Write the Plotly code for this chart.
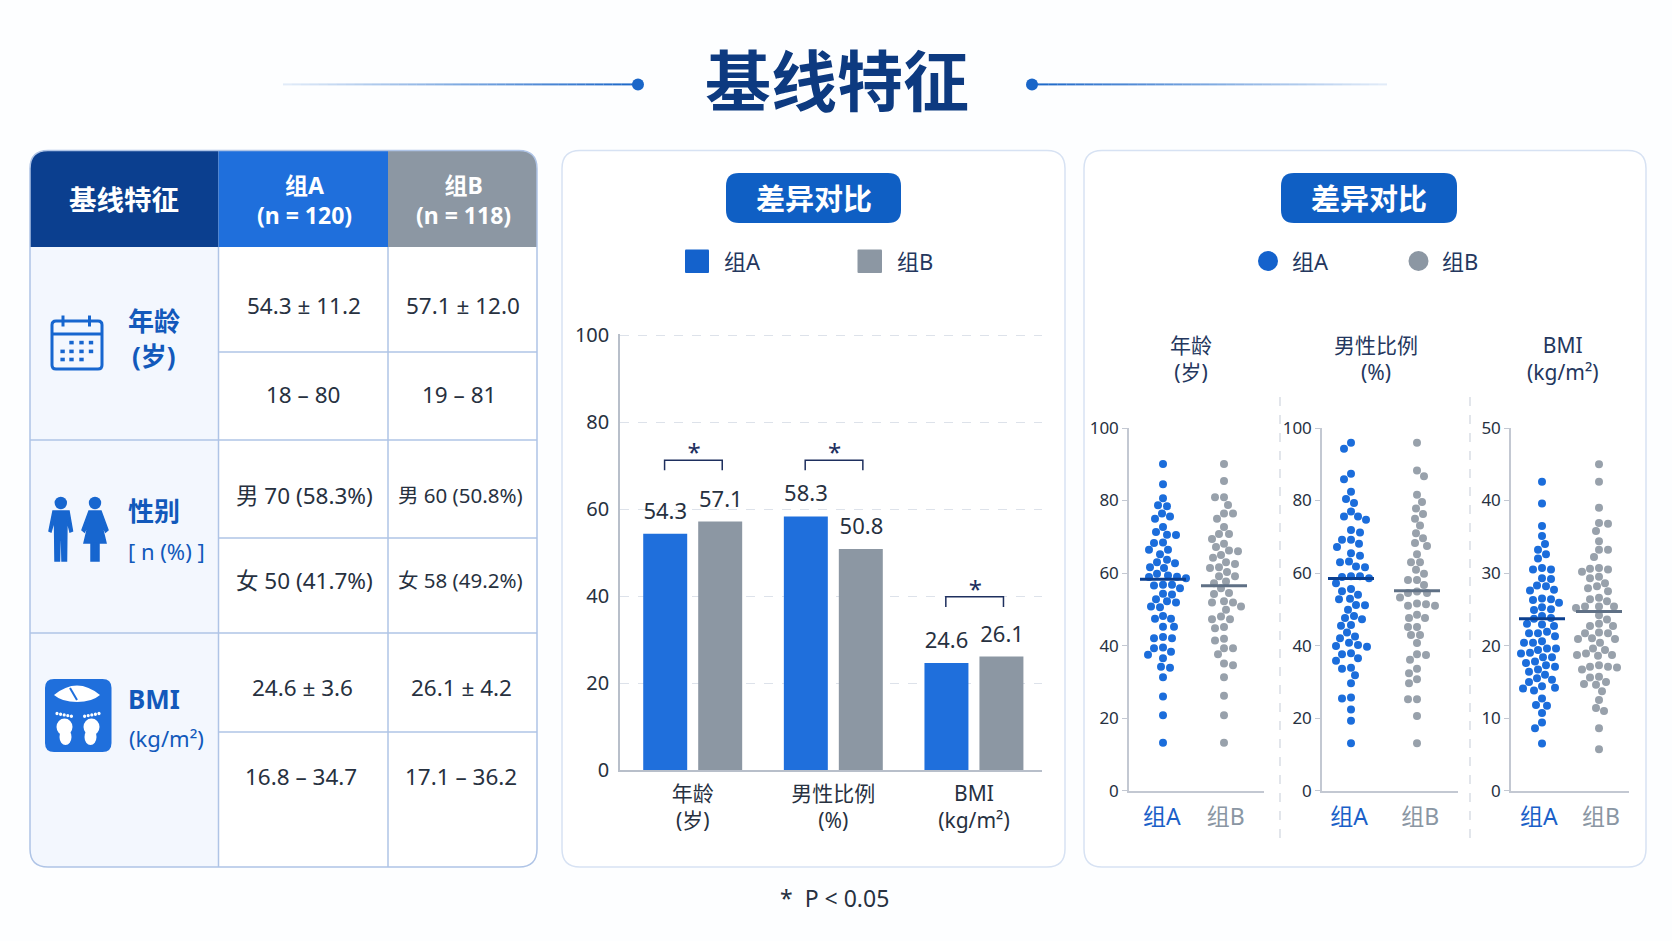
"""
Baseline characteristics panel: table on the left, grouped bars in the middle, dot plots on the right
"""
import plotly.graph_objects as go

WIDTH = 1672
HEIGHT = 941
FONT = "Noto Sans, Noto Sans CJK SC"

BLUE = "#1f6fdc"
GREY = "#8c97a3"
DOT_BLUE = "#1b6ddb"
DOT_GREY = "#98a1ab"
NAVY = "#0b3f8f"
PILL = "#0f5fc4"
INK = "#27313f"
LABEL_BLUE = "#1259bb"
TABLE_LINE = "#afc4e6"

title = "基线特征"
panel_title = "差异对比"
group_names = ["组A", "组B"]
table_header = ["基线特征", "组A<br>(n = 120)", "组B<br>(n = 118)"]
table_col_a = ["54.3 ± 11.2", "18 – 80", "男 70 (58.3%)", "女 50 (41.7%)", "24.6 ± 3.6", "16.8 – 34.7"]
table_col_b = ["57.1 ± 12.0", "19 – 81", "男 60 (50.8%)", "女 58 (49.2%)", "26.1 ± 4.2", "17.1 – 36.2"]

categories = ["年龄<br>(岁)", "男性比例<br>(%)", "BMI<br>(kg/m²)"]
bar_a = [54.3, 58.3, 24.6]
bar_b = [57.1, 50.8, 26.1]
bar_ticks = [0, 20, 40, 60, 80, 100]
bar_bracket_tops = [71.2, 71.2, 39.8]

age_a = [90.1, 84.5, 80.6, 78.7, 78.4, 76.4, 75.6, 75, 72.7, 71.3, 70.6, 70.5, 68.4, 68.3, 66.4, 66.4, 65.2, 63.7, 63,
         62.7, 61.6, 61.4, 59.8, 59.3, 59, 58.9, 58.6, 56.8, 56.8, 56.6, 55.8, 54.3, 54.1, 52.8, 52.2, 51.9, 50.8, 50.6,
         48.2, 47.4, 47.4, 45.2, 45.2, 42.4, 42, 42, 39.5, 39.3, 38.3, 37.5, 36.5, 34.2, 33.9, 31.3, 26, 20.8, 13.2]
age_b = [90.1, 85.4, 80.9, 80.9, 78.8, 76.4, 76.4, 75, 72.7, 70.8, 70.8, 69.4, 68.1, 67.2, 66.2, 66, 65, 64.2, 63, 62.5,
         61.6, 61.4, 60.3, 59.1, 59.1, 57.7, 57.2, 55.8, 54.5, 54.2, 52.2, 51.9, 51.9, 50.8, 49.9, 48, 47.3, 47.3, 45.1,
         44.8, 41.9, 41.4, 39.3, 39.3, 37.6, 35.1, 34.6, 31.3, 26.2, 20.8, 13.2]
male_a = [95.9, 94.3, 87.4, 85.9, 82.4, 80.4, 79.3, 77, 75.6, 75.6, 74.7, 71.9, 71.2, 69.2, 69.2, 68.1, 67.2, 65.5, 64.8,
          63.2, 63, 61.8, 61.6, 59.1, 59.1, 58.9, 58.6, 57.2, 55.6, 55, 54, 52.9, 52.8, 51.2, 51.1, 49.9, 48.2, 47.6,
          47.3, 45.7, 45.5, 43.6, 42.5, 42, 40.8, 40.2, 39.9, 39.7, 37.9, 37.6, 36.5, 35.8, 33.9, 33.6, 31.8, 29.6, 25.7,
          25.4, 22.4, 19.3, 13.1]
male_b = [95.9, 88.3, 86.7, 81.6, 79.6, 77.8, 76.3, 75, 73.1, 71, 69.6, 68.3, 67.5, 65.2, 63, 63, 60.9, 59.8, 58.1, 58.1,
          56.7, 54.9, 54.5, 54.5, 53.3, 51.6, 51.4, 51, 51, 48.5, 47.6, 47.6, 45.1, 45.1, 42.9, 42.9, 40.7, 37.6, 37.4,
          36.1, 33.6, 32.4, 30.7, 29.6, 25.2, 25.2, 20.6, 13.1]
bmi_a = [42.6, 39.6, 36.5, 35.1, 34, 33.2, 32.6, 32, 30.7, 30.5, 30.5, 29.3, 29.2, 28.3, 28.2, 27.7, 27.6, 26.5, 26.4,
         26.3, 25.9, 25.3, 25, 24.9, 24.1, 23.8, 23.7, 23, 22.9, 22.7, 21.9, 21.7, 21.7, 21.3, 20.6, 20.4, 20.4, 19.6,
         19.6, 19.4, 19, 18.9, 18.4, 18.4, 17.8, 17.6, 17.3, 17.1, 16.7, 16.4, 16, 15.5, 15.3, 15, 14.4, 14.2, 14.1,
         13.8, 12.7, 11.8, 11.7, 10.7, 9.4, 8.6, 6.5]
bmi_b = [45, 42.6, 39, 36.9, 36.8, 35.8, 34.4, 33.2, 33.2, 32.2, 30.7, 30.6, 30.5, 30.2, 29.5, 29.3, 28.6, 28.2, 27.9,
         27.5, 26.6, 26.4, 26.1, 25.4, 25.4, 25.4, 25.2, 24.2, 23.6, 23, 22.7, 22.7, 21.8, 21.7, 21.7, 21, 20.9, 20.9,
         20.4, 19.6, 19.4, 18.9, 18.7, 18.7, 18.6, 17.3, 17.1, 17.1, 17, 16.7, 15.7, 15.6, 15, 14.7, 14.6, 13.7, 12.5,
         11.4, 11, 8.6, 5.7]
mean_lines = [(58.3, 56.5), (58.5, 55.1), (23.7, 24.7)]
dot_titles = ["年龄<br>(岁)", "男性比例<br>(%)", "BMI<br>(kg/m²)"]
dot_ticks = [[0, 20, 40, 60, 80, 100], [0, 20, 40, 60, 80, 100], [0, 10, 20, 30, 40, 50]]
dot_bracket_tops = [103.9, 103.9, 51.95]
dot_bracket_feet = [101.4, 101.4, 50.7]
footnote = "*  P &lt; 0.05"


def px(x):
    return x / WIDTH


def py(y):
    return 1 - y / HEIGHT


def line_shape(x0, y0, x1, y1, color, width=1.5, dash="solid"):
    return dict(type="line", xref="paper", yref="paper", x0=px(x0), y0=py(y0), x1=px(x1), y1=py(y1), layer="below",
                line=dict(color=color, width=width, dash=dash))


def round_box(x0, y0, x1, y1, radii, fill, line_color=None, line_width=0):
    """Box with its own radius on each corner: top left, top right, bottom right, bottom left"""
    tl, tr, br, bl = radii
    cmds = [
        f"M {px(x0 + tl)} {py(y0)}", f"L {px(x1 - tr)} {py(y0)}",
        f"Q {px(x1)} {py(y0)} {px(x1)} {py(y0 + tr)}", f"L {px(x1)} {py(y1 - br)}",
        f"Q {px(x1)} {py(y1)} {px(x1 - br)} {py(y1)}", f"L {px(x0 + bl)} {py(y1)}",
        f"Q {px(x0)} {py(y1)} {px(x0)} {py(y1 - bl)}", f"L {px(x0)} {py(y0 + tl)}",
        f"Q {px(x0)} {py(y0)} {px(x0 + tl)} {py(y0)}", "Z",
    ]
    return dict(type="path", xref="paper", yref="paper", path=" ".join(cmds), fillcolor=fill, layer="below",
                line=dict(color=line_color or fill, width=line_width))


def polygon(points, fill, width=1.0):
    cmds = [f"{'M' if i == 0 else 'L'} {px(x)} {py(y)}" for i, (x, y) in enumerate(points)]
    return dict(type="path", xref="paper", yref="paper", path=" ".join(cmds) + " Z", fillcolor=fill, layer="below",
                line=dict(color=fill, width=width))


def ellipse(cx, cy, rx, ry, fill):
    return dict(type="circle", xref="paper", yref="paper", x0=px(cx - rx), x1=px(cx + rx), y0=py(cy + ry),
                y1=py(cy - ry), fillcolor=fill, line=dict(width=0), layer="below")


def note(x, y, text, size, color=INK, bold=False):
    return dict(xref="paper", yref="paper", x=px(x), y=py(y), text=f"<b>{text}</b>" if bold else text,
                showarrow=False, xanchor="center", yanchor="middle", font=dict(family=FONT, size=size, color=color))


def swarm(values, px_per_value, gap=8.5):
    """Pushes each value sideways just enough to clear the dots already placed, returns offsets in pixels"""
    placed = []
    offsets = []
    side = 1
    for value in values:
        y = value * px_per_value
        offset = 0.0
        for k in range(0, 60):
            candidate = (k // 2 + k % 2) * side * (-1 if k % 2 == 0 else 1)
            if all((candidate - ox) ** 2 + (y - oy) ** 2 >= gap ** 2 for ox, oy in placed):
                offset = float(candidate)
                break
        placed.append((offset, y))
        offsets.append(offset)
        side = -side
    return offsets


shapes = []
annotations = []

# Title with the fading rules either side
annotations.append(note(837, 80, title, 66, "#0d3a80", True))
for i in range(40):
    alpha = round(0.1 + 0.9 * (i + 1) / 40, 3)
    shapes.append(line_shape(283 + i * 8.9, 84.4, 283 + (i + 1) * 8.9, 84.4, f"rgba(26,102,200,{alpha})", 2))
    shapes.append(line_shape(1387 - i * 8.9, 84.4, 1387 - (i + 1) * 8.9, 84.4, f"rgba(26,102,200,{alpha})", 2))
shapes.append(ellipse(638, 84.4, 6, 6, "#1a66c8"))
shapes.append(ellipse(1032, 84.4, 6, 6, "#1a66c8"))

# Table
table_left, col_1, col_2, table_right = 30, 218.5, 388, 537
table_top, header_bottom, table_bottom = 150.5, 247, 867
row_lines = [352, 440, 538, 633, 732]
shapes.append(round_box(table_left, table_top, table_right, table_bottom, (18, 18, 18, 18), "#ffffff"))
shapes.append(round_box(table_left, header_bottom, col_1, table_bottom, (0, 0, 0, 18), "#f3f7fe"))
shapes.append(round_box(table_left, table_top, col_1, header_bottom, (18, 0, 0, 0), NAVY))
shapes.append(round_box(col_1, table_top, col_2, header_bottom, (0, 0, 0, 0), BLUE))
shapes.append(round_box(col_2, table_top, table_right, header_bottom, (0, 18, 0, 0), GREY))
for y in row_lines:
    left = table_left if y in (440, 633) else col_1
    shapes.append(line_shape(left, y, table_right, y, TABLE_LINE))
shapes.append(line_shape(col_1, header_bottom, col_1, table_bottom, TABLE_LINE))
shapes.append(line_shape(col_2, header_bottom, col_2, table_bottom, TABLE_LINE))
shapes.append(dict(round_box(table_left, table_top, table_right, table_bottom, (18, 18, 18, 18), "rgba(0,0,0,0)",
                             TABLE_LINE, 1.5)))

annotations.append(note(124, 199.5, table_header[0], 27.5, "#ffffff", True))
annotations.append(note(304, 200, table_header[1], 23, "#ffffff", True))
annotations.append(note(463, 200, table_header[2], 23, "#ffffff", True))
row_centres = [305, 394.6, 495, 580, 687, 776.5]
col_a_x = [304, 303, 304, 304, 302, 301]
col_b_x = [463, 459, 460, 460, 461, 461]
for i, y in enumerate(row_centres):
    annotations.append(note(col_a_x[i], y, table_col_a[i], 22.5))
    annotations.append(note(col_b_x[i], y, table_col_b[i], 20.5 if i in (2, 3) else 22.5))

annotations.append(note(153.6, 321, "年龄", 26, LABEL_BLUE, True))
annotations.append(note(153.6, 356, "(岁)", 26, LABEL_BLUE, True))
annotations.append(note(153.6, 511, "性别", 26, LABEL_BLUE, True))
annotations.append(note(166, 551, "[ n (%) ]", 22, LABEL_BLUE))
annotations.append(note(153.6, 699, "BMI", 26, LABEL_BLUE, True))
annotations.append(note(166, 738, "(kg/m²)", 22, LABEL_BLUE))

# Calendar icon
ICON_LINE = "#1766cf"
shapes.append(round_box(52, 321, 102, 369, (4, 4, 4, 4), "rgba(0,0,0,0)", ICON_LINE, 3))
shapes.append(line_shape(52, 334, 102, 334, ICON_LINE, 3))
shapes.append(line_shape(63, 315.5, 63, 326.5, ICON_LINE, 3))
shapes.append(line_shape(89.5, 315.5, 89.5, 326.5, ICON_LINE, 3))
for y, xs in [(342.6, [71.5, 81.5, 91]), (351.4, [62.6, 71.5, 81.5, 91]), (359.5, [62.6, 71.5, 81.5])]:
    for x in xs:
        shapes.append(dict(type="rect", xref="paper", yref="paper", x0=px(x - 2.2), x1=px(x + 2.2), y0=py(y + 1.8),
                           y1=py(y - 1.8), fillcolor=ICON_LINE, line=dict(width=0), layer="below"))

# People icon
shapes.append(ellipse(60.8, 503, 6.2, 6.2, ICON_LINE))
shapes.append(ellipse(95, 503, 6.2, 6.2, ICON_LINE))
shapes.append(polygon([(53, 511), (69, 511), (72.5, 531), (70, 532), (67, 520), (66.5, 561), (62, 561), (61.5, 540),
                       (60, 540), (59.5, 561), (55, 561), (54.5, 520), (51, 532), (49, 531)], ICON_LINE, 1.5))
shapes.append(polygon([(89, 511), (101, 511), (108, 530), (105.5, 532), (101, 522), (106, 543), (99, 543), (99, 561),
                       (95.5, 561), (95.5, 543), (94.5, 543), (94.5, 561), (91, 561), (91, 543), (84, 543), (89, 522),
                       (84.5, 532), (82, 530)], ICON_LINE, 1.5))

# Bathroom scale icon
shapes.append(round_box(45, 679, 111.5, 752, (9, 9, 9, 9), BLUE))
shapes.append(dict(type="path", xref="paper", yref="paper", fillcolor="#ffffff", line=dict(width=0), layer="below",
                   path=f"M {px(54)} {py(695)} Q {px(77)} {py(676)} {px(100)} {py(695)} "
                        f"Q {px(92)} {py(702)} {px(77)} {py(702)} Q {px(62)} {py(702)} {px(54)} {py(695)} Z"))
shapes.append(line_shape(70, 688, 77, 700, BLUE, 2))
for foot_x, toe_sign in [(64.5, -1), (91.5, 1)]:
    shapes.append(ellipse(foot_x, 727, 8, 8.5, "#ffffff"))
    shapes.append(ellipse(foot_x + toe_sign * -1, 737, 6, 8, "#ffffff"))
    for k in range(5):
        shapes.append(ellipse(foot_x + toe_sign * (7.5 - k * 3.6), 713.5 + k * 0.7, 1.6, 1.7, "#ffffff"))

# Chart panels
for x0, x1 in [(562, 1065), (1084, 1646)]:
    shapes.append(round_box(x0, 150.5, x1, 867, (18, 18, 18, 18), "#ffffff", "#d7e2f3", 1.5))
for x0, x1, text_x in [(726, 901, 814), (1281, 1457, 1368.6)]:
    shapes.append(round_box(x0, 173, x1, 223, (13, 13, 13, 13), PILL))
    annotations.append(note(text_x, 198.4, panel_title, 29, "#ffffff", True))

# Legends
shapes.append(round_box(685, 249.6, 709, 273, (1, 1, 1, 1), "#1462cc"))
shapes.append(round_box(857.5, 249.6, 882, 273, (1, 1, 1, 1), GREY))
shapes.append(ellipse(1268, 261, 10, 10, "#1462cc"))
shapes.append(ellipse(1418.5, 261, 10, 10, GREY))
annotations.append(note(742, 261, group_names[0], 22, "#24375e"))
annotations.append(note(915, 261, group_names[1], 22, "#24375e"))
annotations.append(note(1310, 261, group_names[0], 22, "#24375e"))
annotations.append(note(1460, 261, group_names[1], 22, "#24375e"))

annotations.append(note(834, 898, footnote, 23))

fig = go.Figure()

# Grouped bars, value labels sit on their own text layer so they can clear the bar tops
bar_x = list(range(len(categories)))
label_lift = 4.7
for values, color, name, shift in [(bar_a, BLUE, group_names[0], -0.195), (bar_b, GREY, group_names[1], 0.2)]:
    fig.add_trace(go.Bar(x=bar_x, y=values, name=name, marker=dict(color=color, line=dict(width=0))))
    fig.add_trace(go.Scatter(x=[i + shift for i in bar_x], y=[v + label_lift for v in values], mode="text",
                             text=[str(v) for v in values], textposition="middle center", cliponaxis=False,
                             textfont=dict(family=FONT, size=22, color=INK), hoverinfo="skip"))
for i, top in enumerate(bar_bracket_tops):
    foot = top - 2.3
    fig.add_trace(go.Scatter(x=[i - 0.2, i - 0.2, i + 0.21, i + 0.21], y=[foot, top, top, foot], mode="lines",
                             line=dict(color="#1e2f5e", width=1.5), cliponaxis=False, hoverinfo="skip"))
    fig.add_trace(go.Scatter(x=[i + 0.01], y=[top + 1.1], mode="text", text=["*"], cliponaxis=False,
                             textfont=dict(family=FONT, size=24, color="#1e2f5e"), hoverinfo="skip"))

# Dot plots, each with its own pair of axes placed in pixels
dot_panels = [
    dict(left=1129, right=1264, pos_a=1163, pos_b=1224, a=age_a, b=age_b, top=100, title_x=1191, ticks=[-0.02, 1.03]),
    dict(left=1322, right=1458, pos_a=1351, pos_b=1417, a=male_a, b=male_b, top=100, title_x=1376, ticks=[-0.03, 1.05]),
    dict(left=1511, right=1629, pos_a=1542, pos_b=1599, a=bmi_a, b=bmi_b, top=50, title_x=1562.5, ticks=[-0.055, 1.035]),
]
dot_y_top, dot_y_bottom = 428, 790.7
layout_axes = {}
for n, panel in enumerate(dot_panels):
    axis_n = n + 2
    xname, yname = f"x{axis_n}", f"y{axis_n}"
    unit = panel["pos_b"] - panel["pos_a"]
    px_per_value = (dot_y_bottom - dot_y_top) / panel["top"]
    for g, (values, color, mean, line_color) in enumerate([
        (panel["a"], DOT_BLUE, mean_lines[n][0], NAVY),
        (panel["b"], DOT_GREY, mean_lines[n][1], "#5f7085"),
    ]):
        offsets = swarm(values, px_per_value)
        fig.add_trace(go.Scatter(x=[g + o / unit for o in offsets], y=values, mode="markers", xaxis=xname, yaxis=yname,
                                 marker=dict(color=color, size=8, line=dict(width=0)), cliponaxis=False))
        half = 23 / unit
        fig.add_trace(go.Scatter(x=[g - half, g + half], y=[mean, mean], mode="lines", xaxis=xname, yaxis=yname,
                                 line=dict(color=line_color, width=3), hoverinfo="skip"))
    top, foot = dot_bracket_tops[n], dot_bracket_feet[n]
    fig.add_trace(go.Scatter(x=[0, 0, 0.95, 0.95], y=[foot, top, top, foot], mode="lines", xaxis=xname, yaxis=yname,
                             line=dict(color="#1e2f5e", width=1.5), cliponaxis=False, hoverinfo="skip"))
    star_y = top * (1 + 0.026)
    fig.add_trace(go.Scatter(x=[0.47], y=[star_y], mode="text", text=["*"], xaxis=xname, yaxis=yname, cliponaxis=False,
                             textfont=dict(family=FONT, size=24, color="#1e2f5e"), hoverinfo="skip"))
    layout_axes[f"xaxis{axis_n}"] = dict(
        domain=[px(panel["left"]), px(panel["right"])], anchor=yname,
        range=[(panel["left"] - panel["pos_a"]) / unit, (panel["right"] - panel["pos_a"]) / unit],
        tickvals=panel["ticks"],
        ticktext=[f'<span style="color:#1a5fc8">{group_names[0]}</span>',
                  f'<span style="color:#8a96a3">{group_names[1]}</span>'],
        ticks="outside", ticklen=5, tickcolor="rgba(0,0,0,0)", showgrid=False, zeroline=False, showline=True,
        linecolor="#c3c8d2", linewidth=1.5, tickfont=dict(family=FONT, size=23),
    )
    layout_axes[f"yaxis{axis_n}"] = dict(
        domain=[py(dot_y_bottom), py(dot_y_top)], anchor=xname, range=[0, panel["top"]], tickvals=dot_ticks[n],
        ticks="outside", ticklen=5, tickcolor="#c3c8d2", showgrid=False, zeroline=False, showline=True,
        linecolor="#c3c8d2", linewidth=1.5, tickfont=dict(family=FONT, size=17, color=INK),
    )
    annotations.append(note(panel["title_x"], 358.5, dot_titles[n], 21, "#24375e"))

shapes.append(line_shape(1280, 397, 1280, 838, "#cfd5de", 1.2, "dash"))
shapes.append(line_shape(1470, 397, 1470, 838, "#cfd5de", 1.2, "dash"))

fig.update_layout(
    width=WIDTH, height=HEIGHT, margin=dict(l=0, r=0, t=0, b=0, autoexpand=False), showlegend=False,
    paper_bgcolor="#fdfeff", plot_bgcolor="rgba(0,0,0,0)", font=dict(family=FONT, color=INK),
    barmode="group", bargap=0.218, bargroupgap=0.2, shapes=shapes, annotations=annotations,
    xaxis=dict(domain=[px(620), px(1042)], anchor="y", range=[-0.517, 2.484], tickvals=bar_x, ticktext=categories,
               ticks="outside", ticklen=4, tickcolor="rgba(0,0,0,0)", showgrid=False, zeroline=False, showline=True,
               linecolor="#b8bfca", linewidth=1.5, tickfont=dict(family=FONT, size=21, color=INK)),
    yaxis=dict(domain=[py(770), py(333.7)], anchor="x", range=[0, 100.3], tickvals=bar_ticks, ticks="outside", ticklen=5,
               tickcolor="rgba(0,0,0,0)", showgrid=True, gridcolor="#dde2ea", griddash="dash", gridwidth=1.2,
               zeroline=False, showline=True, linecolor="#b8bfca", linewidth=1.5,
               tickfont=dict(family=FONT, size=20, color=INK)),
    **layout_axes,
)

fig.write_html("out.html", config=dict(displayModeBar=False), post_script="document.body.style.margin='0';")
